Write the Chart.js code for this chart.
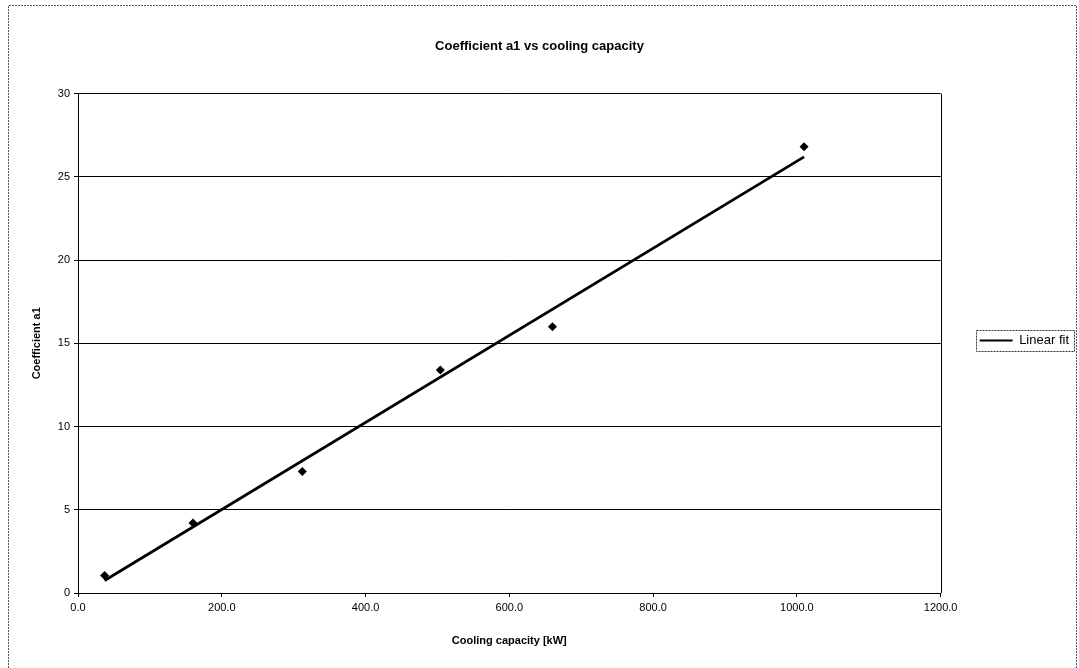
<!DOCTYPE html>
<html><head><meta charset="utf-8">
<script src="https://cdn.jsdelivr.net/npm/chart.js@4.4.1/dist/chart.umd.min.js"></script>
<style>html,body{margin:0;padding:0;background:#fff}#wrap{width:1079px;height:668px}</style>
</head><body><div id="wrap"><canvas id="c" width="1079" height="668"></canvas></div>
<script>
const capacityKW = [37, 160, 312, 504, 660, 1010];
const coefficientA1 = [1.05, 4.2, 7.3, 13.4, 16.0, 26.8];
const fitCapacityKW = [37, 1010];
const fitCoefficientA1 = [0.75, 26.2];
const chartTitle = 'Coefficient a1 vs cooling capacity';
const xAxisTitle = 'Cooling capacity [kW]';
const yAxisTitle = 'Coefficient a1';
const legendLabel = 'Linear fit';

const FONT = '"Liberation Sans", Arial, sans-serif';

const framePlugin = {
  id: 'frame',
  afterDraw(chart) {
    const ctx = chart.ctx, a = chart.chartArea;
    ctx.save();
    ctx.strokeStyle = '#000';
    ctx.lineWidth = 1;
    ctx.beginPath();
    ctx.moveTo(Math.round(a.right) + 0.5, a.top);
    ctx.lineTo(Math.round(a.right) + 0.5, a.bottom);
    ctx.stroke();
    // outer chart border
    ctx.strokeStyle = '#555';
    ctx.setLineDash([2, 1]);
    ctx.beginPath();
    ctx.moveTo(8.5, 668);
    ctx.lineTo(8.5, 5.5);
    ctx.lineTo(1076.5, 5.5);
    ctx.lineTo(1076.5, 668);
    ctx.stroke();
    // legend border
    const lg = chart.legend;
    if (lg && lg.legendHitBoxes && lg.legendHitBoxes.length) {
      const hb = lg.legendHitBoxes[0];
      ctx.strokeStyle = '#333';
      ctx.setLineDash([2, 1]);
      const l = Math.round(hb.left) - 3.5;
      const t = Math.round(hb.top + hb.height / 2) - 10.5;
      ctx.strokeRect(l, t, 98, 21);
    }
    ctx.setLineDash([]);
    ctx.restore();
  }
};

new Chart(document.getElementById('c'), {
  type: 'scatter',
  data: {
    datasets: [
      {
        label: 'data',
        data: capacityKW.map((x, i) => ({x, y: coefficientA1[i]})),
        pointStyle: 'rectRot',
        pointRadius: 4.5,
        backgroundColor: '#000',
        borderColor: '#000',
        borderWidth: 0,
        showLine: false
      },
      {
        label: legendLabel,
        data: fitCapacityKW.map((x, i) => ({x, y: fitCoefficientA1[i]})),
        showLine: true,
        pointRadius: 0,
        borderColor: '#000',
        borderWidth: 2.8,
        backgroundColor: '#000'
      }
    ]
  },
  options: {
    responsive: false,
    animation: false,
    devicePixelRatio: 1,
    layout: {padding: {left: 0, right: 0, top: 0, bottom: 0}},
    plugins: {
      title: {
        display: true,
        text: chartTitle,
        color: '#000',
        font: {family: FONT, size: 13, weight: 'bold'},
        padding: {top: 39, bottom: 39}
      },
      legend: {
        position: 'right',
        title: {display: true, text: ' ', font: {size: 1}, padding: {top: 0, bottom: 12}},
        labels: {
          color: '#000',
          font: {family: FONT, size: 13},
          boxWidth: 33,
          boxHeight: 2,
          padding: 39,
          generateLabels: () => [{text: legendLabel, fillStyle: '#000', strokeStyle: '#000', fontColor: '#000', lineWidth: 0, hidden: false, datasetIndex: 1}]
        }
      },
      tooltip: {enabled: false}
    },
    scales: {
      x: {
        type: 'linear',
        min: 0, max: 1200,
        afterFit(s) { s.height = 75; },
        ticks: {stepSize: 200, color: '#000', font: {family: FONT, size: 11}, padding: 4, maxRotation: 0,
          callback: v => Number(v).toFixed(1)},
        grid: {drawOnChartArea: false, drawTicks: true, tickLength: 4, color: '#000'},
        border: {color: '#000', width: 1},
        title: {display: true, text: xAxisTitle, color: '#000', font: {family: FONT, size: 11, weight: 'bold'}, padding: {top: 0, bottom: 20}}
      },
      y: {
        type: 'linear',
        min: 0, max: 30,
        afterFit(s) { s.width = 78; },
        ticks: {stepSize: 5, color: '#000', font: {family: FONT, size: 11}, padding: 4},
        grid: {color: '#000', lineWidth: 1, tickLength: 4},
        border: {color: '#000', width: 1},
        title: {display: true, text: yAxisTitle, color: '#000', font: {family: FONT, size: 11, weight: 'bold'}, padding: {top: 30, bottom: 0}}
      }
    }
  },
  plugins: [framePlugin]
});
</script></body></html>
